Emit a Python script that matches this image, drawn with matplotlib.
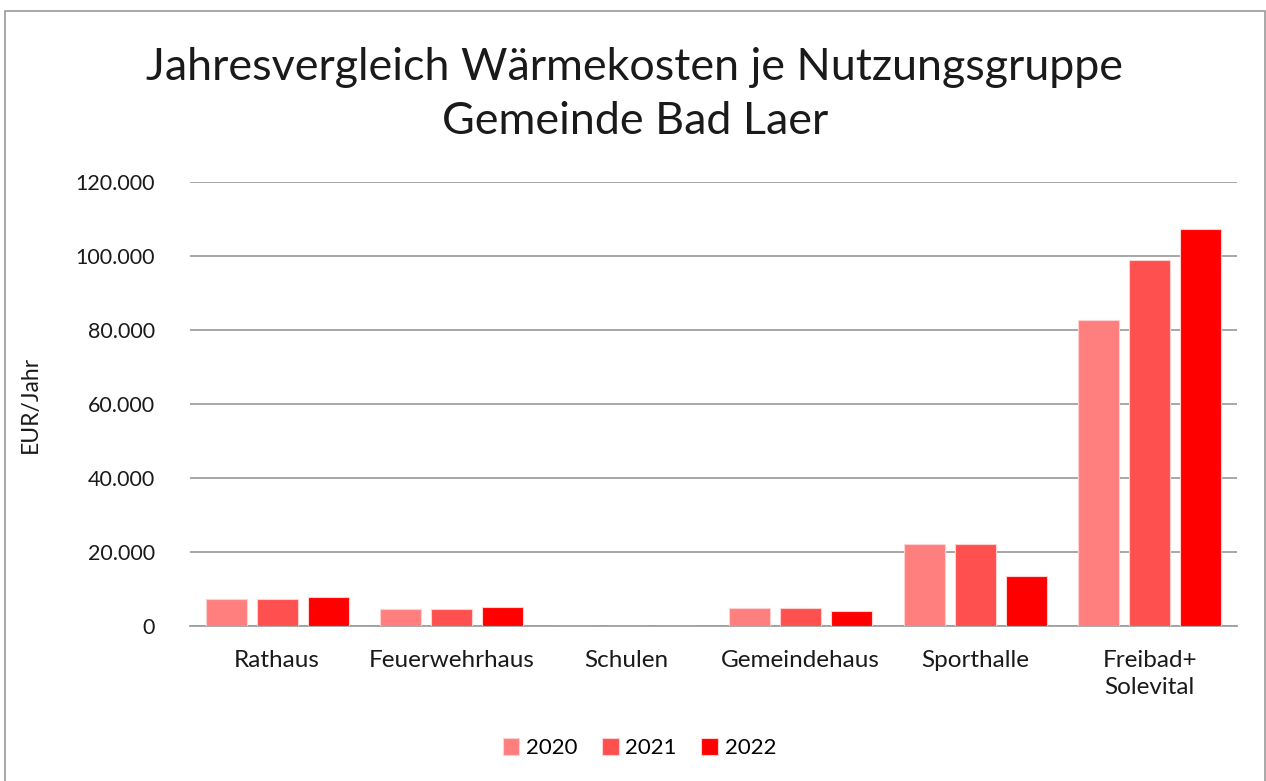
import matplotlib
matplotlib.use('Agg')
import matplotlib.pyplot as plt
import numpy as np
from matplotlib.patches import Rectangle
from matplotlib.ticker import FuncFormatter

plt.rcParams['font.family'] = ['Lato', 'DejaVu Sans']

# data
categories = ['Rathaus', 'Feuerwehrhaus', 'Schulen', 'Gemeindehaus', 'Sporthalle', 'Freibad+\nSolevital']
years = ['2020', '2021', '2022']
v2020 = [7200, 4600, 0, 4800, 22100, 82700]
v2021 = [7200, 4600, 0, 4800, 22100, 99000]
v2022 = [7800, 5000, 0, 4000, 13500, 107300]
colors = ['#FF7F7F', '#FF5050', '#FF0000']

fig = plt.figure(figsize=(12.66, 7.81), dpi=100)
ax = fig.add_axes([0.150, 0.1985, 0.827, 0.5685])

x = np.arange(len(categories))
step = 0.293
width = 0.235
for i, (vals, lab) in enumerate(zip([v2020, v2021, v2022], years)):
    ax.bar(x + (i - 1) * step, vals, width, color=colors[i], label=lab,
           edgecolor='#FFD0D0', linewidth=0.8, zorder=3)

ax.set_xlim(-0.5, len(categories) - 0.5)
ax.set_ylim(0, 120000)
ax.set_yticks(np.arange(0, 120001, 20000))
ax.yaxis.set_major_formatter(FuncFormatter(lambda v, p: f'{int(v):,}'.replace(',', '.')))
ax.grid(axis='y', color='#A0A0A0', linewidth=1.3, zorder=0)
ax.set_xticks(x)
ax.set_xticklabels(categories, fontsize=17.5, color='#1a1a1a', linespacing=1.35)
ax.tick_params(axis='y', labelsize=15.5, labelcolor='#1a1a1a', length=0, pad=25)
ax.tick_params(axis='x', length=0, pad=17)
for s in ['top', 'right', 'left']:
    ax.spines[s].set_visible(False)
ax.spines['bottom'].set_color('#A0A0A0')
ax.spines['bottom'].set_linewidth(1.3)
ax.set_ylabel('EUR/Jahr', fontsize=16.5, color='#1a1a1a')
ax.yaxis.set_label_coords(-0.142, 0.5)

fig.text(0.5015, 0.879, 'Jahresvergleich Wärmekosten je Nutzungsgruppe\nGemeinde Bad Laer',
         ha='center', va='center', fontsize=32.3, color='#1a1a1a', linespacing=1.38)

ax.legend(loc='center', bbox_to_anchor=(0.505, 0.042), bbox_transform=fig.transFigure,
          ncol=3, frameon=False, fontsize=16, handlelength=0.75, handleheight=0.75,
          handletextpad=0.3, columnspacing=1.1)

fig.patches.append(Rectangle((5 / 1266, -0.01), 1260 / 1266, 1 - 11 / 781 + 0.01,
                             transform=fig.transFigure, fill=False,
                             edgecolor='#999999', linewidth=1.2))

fig.savefig('out.png', dpi=100)
